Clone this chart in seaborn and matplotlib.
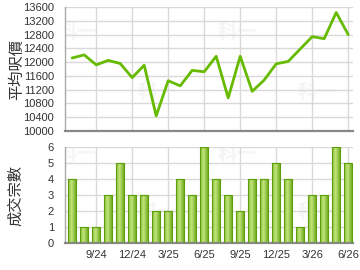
import numpy as np
import pandas as pd
import matplotlib
matplotlib.use("Agg")
import matplotlib.pyplot as plt
import seaborn as sns

months = ["7/24", "8/24", "9/24", "10/24", "11/24", "12/24", "1/25", "2/25", "3/25",
          "4/25", "5/25", "6/25", "7/25", "8/25", "9/25", "10/25", "11/25", "12/25",
          "1/26", "2/26", "3/26", "4/26", "5/26", "6/26"]
avg_price = [12120, 12210, 11920, 12050, 11960, 11550, 11910, 10440, 11460, 11310,
             11760, 11720, 12170, 10960, 12170, 11150, 11480, 11950, 12020, 12380,
             12740, 12680, 13440, 12800]
deals = [4, 1, 1, 3, 5, 3, 3, 2, 2, 4, 3, 6, 4, 3, 2, 4, 4, 5, 4, 1, 3, 3, 6, 5]
tick_labels = ["9/24", "12/24", "3/25", "6/25", "9/25", "12/25", "3/26", "6/26"]
price_ticks = [10000, 10400, 10800, 11200, 11600, 12000, 12400, 12800, 13200, 13600]
deal_ticks = [0, 1, 2, 3, 4, 5, 6]

sns.set_style("white")
plt.rcParams['font.family'] = ['Liberation Sans', 'Noto Sans CJK TC', 'DejaVu Sans']

df = pd.DataFrame({"month": months, "price": avg_price, "deals": deals})
df["idx"] = np.arange(len(months))
tick_pos = [months.index(t) for t in tick_labels]

fig = plt.figure(figsize=(3.6, 2.7), dpi=100)
ax1 = fig.add_axes([65/360, 1-131/270, 288/360, 124/270])
ax2 = fig.add_axes([65/360, 1-243/270, 288/360, 96/270])

grid_c = "#d9d9d9"
txt_c = "#333333"
for ax in (ax1, ax2):
    ax.set_xlim(-0.6, 23.4)
    ax.set_xticks(tick_pos)
    ax.grid(True, color=grid_c, linewidth=1.0)
    ax.set_axisbelow(True)
    for s in ("top", "right"):
        ax.spines[s].set_visible(False)
    ax.spines["left"].set_color("#aaaaaa")
    ax.spines["left"].set_linewidth(1.0)
    ax.spines["bottom"].set_color("#888888")
    ax.spines["bottom"].set_linewidth(1.6)
    ax.tick_params(axis="y", length=0, pad=8, labelsize=8, labelcolor=txt_c)

# watermarks
for ax, ys in ((ax1, (33, 93)), (ax2, (155, 213))):
    for k in range(2):
        for (x, y) in ((77 + 160 * k, ys[0]), (157 + 160 * k, ys[1])):
            ax.text(x / 360, 1 - y / 270, "科一", color="#f5f5f5", fontsize=14,
                    fontweight="bold", ha="center", va="center",
                    family=['Noto Sans CJK TC'], transform=fig.transFigure,
                    zorder=0.1, clip_on=True)

sns.lineplot(data=df, x="idx", y="price", ax=ax1, color="#66bb00", linewidth=2.0)
ax1.set_ylim(10000, 13600)
ax1.set_yticks(price_ticks)
ax1.set_xticklabels([])
ax1.tick_params(axis="x", length=0)
ax1.set_xlabel("")
ax1.set_ylabel("平均呎價", fontsize=11, color=txt_c,
               family=['Noto Sans CJK TC'])

sns.barplot(data=df, x="idx", y="deals", ax=ax2, native_scale=True,
            color="#8cc63f", width=0.68, edgecolor="#5e9e0c", linewidth=0.8,
            saturation=1)
ax2.set_xlim(-0.6, 23.4)
ax2.set_xticks(tick_pos)
ax2.set_xticklabels(tick_labels)
ax2.set_ylim(0, 6)
ax2.set_yticks(deal_ticks)
ax2.tick_params(axis="x", length=3, color="#888888", labelsize=8, labelcolor=txt_c, pad=2)
ax2.set_xlabel("")
ax2.set_ylabel("成交宗數", fontsize=11, color=txt_c,
               family=['Noto Sans CJK TC'])

# gradient fill on bars
grad = np.linspace(0, 1, 64)
prof = np.interp(grad, [0, 0.12, 0.4, 0.75, 1.0], [0.0, 0.6, 1.0, 0.45, 0.1])
dark = np.array([0.36, 0.62, 0.02])
light = np.array([0.76, 0.90, 0.48])
img = (dark[None, :] + (light - dark)[None, :] * prof[:, None])[None, :, :]
for p in list(ax2.patches):
    x0, y0 = p.get_x(), p.get_y()
    w, h = p.get_width(), p.get_height()
    im = ax2.imshow(img, extent=(x0, x0 + w, y0, y0 + h), aspect="auto",
                    origin="lower", zorder=2)
    im.set_clip_path(p)
    p.set_zorder(3)
    p.set_facecolor("none")
ax2.set_xlim(-0.6, 23.4)
ax2.set_ylim(0, 6)
ax2.set_aspect("auto")

ax1.yaxis.set_label_coords(-0.14, 0.5)
ax2.yaxis.set_label_coords(-0.14, 0.5)

fig.savefig("out.png", dpi=100)
